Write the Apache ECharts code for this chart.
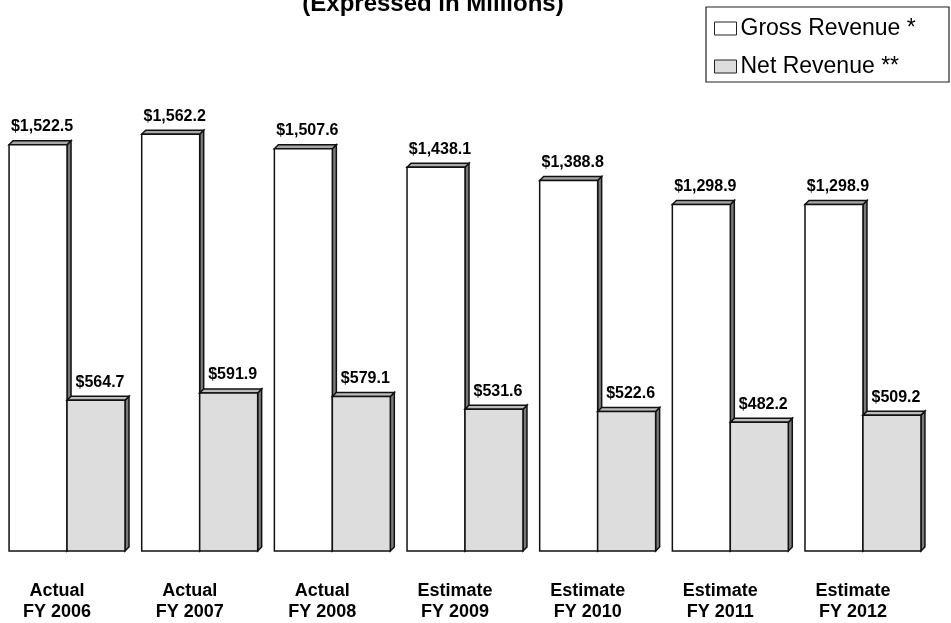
<!DOCTYPE html>
<html>
<head>
<meta charset="utf-8">
<script src="https://cdn.jsdelivr.net/npm/echarts@6/dist/echarts.min.js"></script>
<style>
  html, body { margin: 0; padding: 0; background: #fff; }
  #chart { width: 951px; height: 623px; }
</style>
</head>
<body>
<div id="chart"></div>
<script>
const categories = [
  'Actual\nFY 2006', 'Actual\nFY 2007', 'Actual\nFY 2008',
  'Estimate\nFY 2009', 'Estimate\nFY 2010', 'Estimate\nFY 2011', 'Estimate\nFY 2012'
];
const grossRevenue = [1522.5, 1562.2, 1507.6, 1438.1, 1388.8, 1298.9, 1298.9];
const netRevenue = [564.7, 591.9, 579.1, 531.6, 522.6, 482.2, 509.2];

const FONT = '"Liberation Sans", Arial, sans-serif';

function formatMoney(v) {
  return '$' + v.toLocaleString('en-US', { minimumFractionDigits: 1, maximumFractionDigits: 1 });
}

// draws a flat 3D-looking bar: front, top face, right side face, value label
function makeRenderer(side, frontColor, topColor) {
  return function (params, api) {
    const idx = api.value(0);
    const v = api.value(1);
    const base = api.coord([idx, 0]);
    const top = api.coord([idx, v]);
    const bw = api.size([1, 0])[0] * 0.437;
    const d = 4;
    const x0 = side === 0 ? base[0] - bw : base[0];
    const x1 = x0 + bw;
    const y0 = top[1];
    const yb = base[1];
    const stroke = { stroke: '#111', lineWidth: 1.5 };
    return {
      type: 'group',
      children: [
        {
          type: 'polygon',
          shape: { points: [[x1, y0], [x1 + d, y0 - d], [x1 + d, yb - d], [x1, yb]] },
          style: Object.assign({ fill: '#7a7a7a' }, stroke)
        },
        {
          type: 'polygon',
          shape: { points: [[x0, y0], [x0 + d, y0 - d], [x1 + d, y0 - d], [x1, y0]] },
          style: Object.assign({ fill: topColor }, stroke)
        },
        {
          type: 'rect',
          shape: { x: x0, y: y0, width: bw, height: yb - y0 },
          style: Object.assign({ fill: frontColor }, stroke)
        },
        {
          type: 'text',
          x: (x0 + x1) / 2 + 4,
          y: y0 - 10,
          style: {
            text: formatMoney(v),
            fill: '#000',
            font: 'bold 16px ' + FONT,
            textAlign: 'center',
            textVerticalAlign: 'bottom'
          }
        }
      ]
    };
  };
}

const chart = echarts.init(document.getElementById('chart'));

chart.setOption({
  backgroundColor: '#fff',
  animation: false,
  title: {
    text: '(Expressed in Millions)',
    left: 433,
    textAlign: 'center',
    top: -8,
    padding: 0,
    textStyle: { fontFamily: FONT, fontSize: 24, fontWeight: 'bold', color: '#000', lineHeight: 24 }
  },
  graphic: [
    {
      type: 'rect',
      shape: { x: 706, y: 7, width: 243, height: 75 },
      style: { fill: '#fff', stroke: '#222', lineWidth: 1.2 },
      z: 0
    }
  ],
  legend: {
    left: 714,
    top: 17,
    orient: 'vertical',
    icon: 'rect',
    itemWidth: 22,
    itemHeight: 13,
    itemGap: 15,
    padding: 0,
    z: 10,
    textStyle: { fontFamily: FONT, fontSize: 23, color: '#000', padding: [0, 0, 0, -1], lineHeight: 22 },
    data: [
      { name: 'Gross Revenue *', itemStyle: { color: '#fff', borderColor: '#222', borderWidth: 1 } },
      { name: 'Net Revenue **', itemStyle: { color: '#dddddd', borderColor: '#222', borderWidth: 1 } }
    ]
  },
  grid: { left: 0.7, right: 21.7, top: 17.4, bottom: 71 },
  xAxis: {
    type: 'category',
    data: categories,
    axisLine: { show: false },
    axisTick: { show: false },
    axisLabel: {
      interval: 0,
      margin: 30,
      fontFamily: FONT,
      fontSize: 18,
      fontWeight: 'bold',
      color: '#000',
      lineHeight: 21,
      padding: [0, 20, 0, 0]
    }
  },
  yAxis: {
    type: 'value',
    min: 0,
    max: 2000,
    show: false,
    splitLine: { show: false }
  },
  series: [
    {
      name: 'Gross Revenue *',
      type: 'custom',
      clip: false,
      itemStyle: { color: '#fff', borderColor: '#222' },
      renderItem: makeRenderer(0, '#ffffff', '#a8a8a8'),
      data: grossRevenue.map((v, i) => [i, v])
    },
    {
      name: 'Net Revenue **',
      type: 'custom',
      clip: false,
      itemStyle: { color: '#dddddd', borderColor: '#222' },
      renderItem: makeRenderer(1, '#dddddd', '#bdbdbd'),
      data: netRevenue.map((v, i) => [i, v])
    }
  ]
});
</script>
</body>
</html>
